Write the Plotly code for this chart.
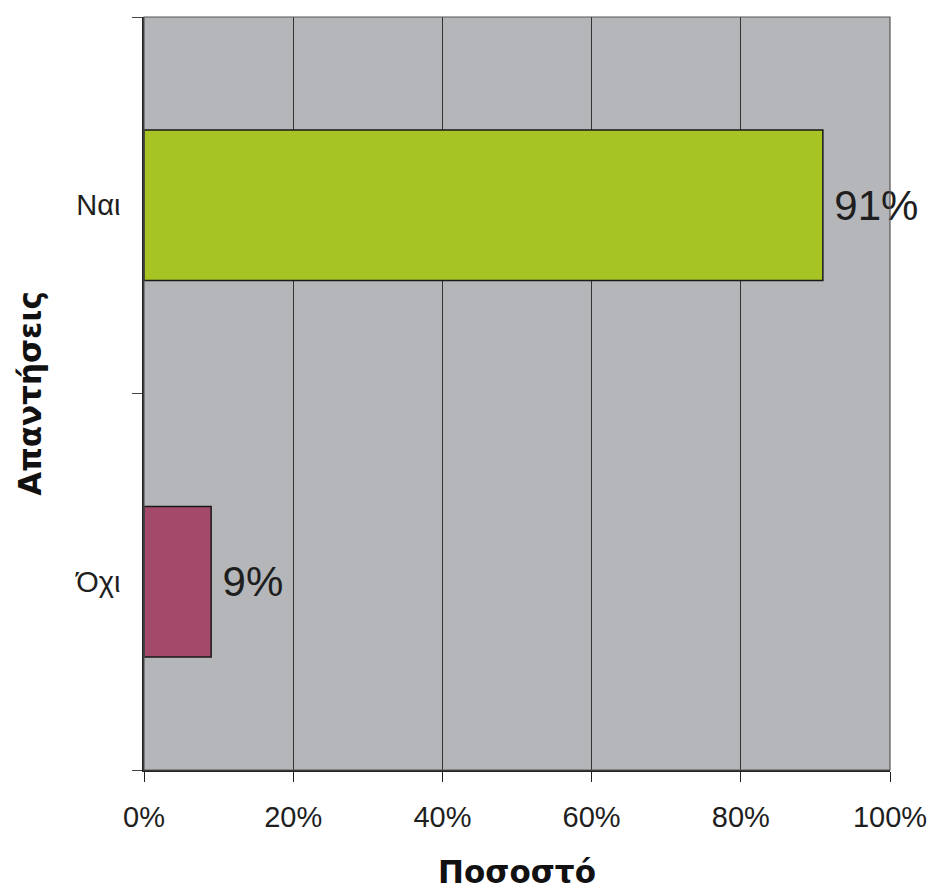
import plotly.graph_objects as go

# Survey answers and their shares (%)
answers = ["Όχι", "Ναι"]
shares = [9, 91]
bar_colors = ["#a34a6a", "#a6c424"]
x_ticks = [0, 20, 40, 60, 80, 100]
x_tick_text = ["0%", "20%", "40%", "60%", "80%", "100%"]

fig = go.Figure(
    go.Bar(
        y=answers,
        x=shares,
        orientation="h",
        marker=dict(color=bar_colors, line=dict(color="#1a1a1a", width=1.5)),
        text=[f"{v}%" for v in shares],
        texttemplate="\u2009%{text}",
        textposition="outside",
        textfont=dict(family="Liberation Sans, Arial, sans-serif", size=42, color="#1e1e1e"),
        cliponaxis=False,
        width=0.4,
    )
)

fig.update_layout(
    width=936,
    height=890,
    margin=dict(l=144, r=46, t=17, b=120),
    paper_bgcolor="white",
    plot_bgcolor="#b5b6b9",
    showlegend=False,
    font=dict(family="Liberation Sans, Arial, sans-serif", color="#1e1e1e"),
    xaxis=dict(
        range=[0, 100],
        automargin=False,
        tickvals=x_ticks,
        ticktext=x_tick_text,
        tickfont=dict(size=29),
        ticks="outside",
        ticklen=10,
        tickcolor="#222",
        ticklabelstandoff=10,
        showgrid=True,
        gridcolor="#333",
        gridwidth=1,
        showline=True,
        linecolor="#222",
        linewidth=1.5,
        zeroline=False,
        title=dict(
            text="Ποσοστό",
            font=dict(family="DejaVu Sans", size=31, color="#111", weight="bold"),
            standoff=30,
        ),
    ),
    yaxis=dict(
        range=[-0.5, 1.5],
        automargin=False,
        tickfont=dict(size=29),
        ticks="outside",
        tickson="boundaries",
        ticklen=10,
        tickcolor="#444",
        ticklabelstandoff=16,
        showgrid=False,
        showline=True,
        linecolor="#222",
        linewidth=1.5,
        title=dict(
            text="Απαντήσεις",
            font=dict(family="DejaVu Sans", size=31, color="#111", weight="bold"),
            standoff=24,
        ),
    ),
    shapes=[
        dict(
            type="rect", xref="paper", yref="paper", x0=0, x1=1, y0=0, y1=1,
            line=dict(color="#555", width=1.2), layer="above",
        )
    ],
)

fig.write_html("out.html")
